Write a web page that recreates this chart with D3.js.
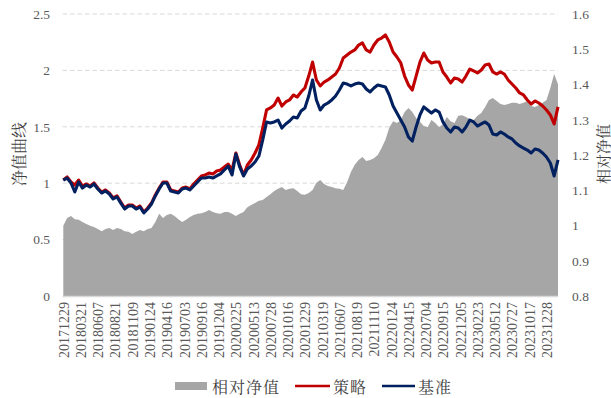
<!DOCTYPE html>
<html>
<head>
<meta charset="utf-8">
<script src="https://cdn.jsdelivr.net/npm/d3@7"></script>
<style>
  html, body { margin: 0; padding: 0; background: #fff; }
  svg { display: block; }
</style>
</head>
<body>
<svg id="chart" width="611" height="398"></svg>
<script>
// Trading-day sampling of the series (one value every 12 trading days)
const sampleStep = 12;
// Tick labels, one every 54 trading days
const tickStep = 54;
const tickLabels = [
  "20171229","20180321","20180607","20180821","20181109","20190124","20190416",
  "20190703","20190916","20191204","20200225","20200513","20200728","20201016",
  "20201229","20210319","20210607","20210819","20211110","20220124","20220415",
  "20220704","20220915","20221205","20230223","20230512","20230727","20231017",
  "20231228"
];

// 策略 net value (left axis)
const strategy = [
  1.028,1.055,1.011,0.984,1.028,0.975,0.993,0.975,1.002,0.957,
  0.922,0.940,0.913,0.869,0.887,0.833,0.780,0.807,0.807,0.780,
  0.798,0.745,0.780,0.824,0.895,0.957,1.011,1.011,0.940,0.931,
  0.922,0.957,0.966,0.949,0.993,1.028,1.064,1.073,1.090,1.082,
  1.108,1.117,1.144,1.170,1.117,1.268,1.161,1.073,1.161,1.206,
  1.268,1.339,1.489,1.649,1.667,1.693,1.755,1.684,1.720,1.738,
  1.782,1.764,1.809,1.844,1.950,2.074,1.915,1.862,1.897,1.915,
  1.941,1.968,2.021,2.110,2.137,2.163,2.181,2.225,2.243,2.181,
  2.163,2.225,2.270,2.287,2.314,2.252,2.163,2.119,2.066,1.950,
  1.871,1.826,1.950,2.074,2.154,2.092,2.066,2.074,2.074,1.986,
  1.941,1.888,1.933,1.924,1.897,1.950,2.012,1.995,1.977,2.004,
  2.048,2.057,1.986,1.968,1.986,1.968,1.915,1.879,1.844,1.800,
  1.782,1.738,1.702,1.729,1.711,1.684,1.649,1.605,1.525,1.676
];

// 基准 net value (left axis)
const benchmark = [
  1.028,1.046,1.002,0.922,1.011,0.957,0.984,0.966,0.993,0.949,
  0.913,0.931,0.904,0.860,0.878,0.824,0.771,0.798,0.798,0.771,
  0.789,0.736,0.771,0.816,0.887,0.949,1.002,1.002,0.931,0.922,
  0.913,0.949,0.957,0.940,0.975,1.011,1.046,1.046,1.055,1.046,
  1.064,1.082,1.117,1.152,1.073,1.259,1.144,1.064,1.126,1.152,
  1.188,1.241,1.383,1.543,1.534,1.543,1.560,1.489,1.525,1.551,
  1.587,1.578,1.640,1.667,1.773,1.915,1.738,1.649,1.693,1.711,
  1.738,1.773,1.826,1.888,1.879,1.862,1.879,1.888,1.879,1.835,
  1.809,1.844,1.871,1.862,1.853,1.782,1.684,1.622,1.560,1.498,
  1.410,1.374,1.498,1.605,1.676,1.649,1.622,1.649,1.631,1.543,
  1.489,1.454,1.498,1.489,1.454,1.498,1.560,1.543,1.507,1.525,
  1.543,1.516,1.436,1.427,1.454,1.436,1.410,1.392,1.356,1.330,
  1.312,1.294,1.268,1.303,1.294,1.268,1.232,1.179,1.064,1.206
];

// 相对净值 (right axis)
const relative = [
  0.999,1.021,1.027,1.018,1.016,1.010,1.004,0.999,0.996,0.990,
  0.984,0.990,0.993,0.987,0.993,0.990,0.984,0.982,0.976,0.982,
  0.987,0.984,0.990,0.993,1.010,1.033,1.021,1.030,1.033,1.027,
  1.018,1.010,1.016,1.024,1.030,1.033,1.035,1.038,1.044,1.038,
  1.035,1.033,1.038,1.038,1.033,1.027,1.033,1.038,1.052,1.058,
  1.064,1.070,1.072,1.081,1.089,1.098,1.104,1.109,1.101,1.104,
  1.106,1.098,1.089,1.087,1.092,1.101,1.121,1.129,1.118,1.112,
  1.109,1.106,1.104,1.101,1.123,1.152,1.172,1.186,1.194,1.183,
  1.186,1.191,1.200,1.220,1.243,1.277,1.296,1.291,1.299,1.322,
  1.333,1.322,1.305,1.294,1.282,1.279,1.299,1.291,1.279,1.288,
  1.308,1.296,1.291,1.311,1.313,1.308,1.302,1.299,1.311,1.319,
  1.336,1.356,1.362,1.353,1.345,1.342,1.345,1.348,1.348,1.345,
  1.348,1.353,1.339,1.336,1.342,1.348,1.356,1.390,1.430,1.401
];

const leftTicks = [0, 0.5, 1, 1.5, 2, 2.5];
const rightTicks = [0.8, 0.9, 1, 1.1, 1.2, 1.3, 1.4, 1.5, 1.6];

const rows = strategy.map((s, i) => ({
  day: i * sampleStep,
  strategy: s,
  benchmark: benchmark[i],
  relative: relative[i]
}));

const svg = d3.select("#chart");
const plot = { left: 62.5, right: 558, top: 14, bottom: 296 };

const x = d3.scaleLinear()
  .domain([0, (rows.length - 1) * sampleStep])
  .range([plot.left + 0.8, plot.right]);
const yL = d3.scaleLinear().domain([0, 2.5]).range([plot.bottom, plot.top]);
const yR = d3.scaleLinear().domain([0.8, 1.6]).range([plot.bottom, plot.top]);

const serif = "'Liberation Serif', 'Times New Roman', serif";
const cjk = "'Noto Serif CJK SC', 'Noto Sans CJK SC', sans-serif";

// dashed horizontal gridlines from the left axis
svg.append("g")
  .selectAll("line")
  .data(leftTicks.filter(t => t > 0))
  .join("line")
  .attr("x1", plot.left)
  .attr("x2", plot.right)
  .attr("y1", d => yL(d))
  .attr("y2", d => yL(d))
  .attr("stroke", "#d9d9d9")
  .attr("stroke-width", 1)
  .attr("stroke-dasharray", "4.5,3");

// relative value area
const area = d3.area()
  .x(d => x(d.day))
  .y0(yR(0.8))
  .y1(d => yR(d.relative));
svg.append("path")
  .datum(rows)
  .attr("d", area)
  .attr("fill", "#a6a6a6");

// baseline
svg.append("line")
  .attr("x1", plot.left)
  .attr("x2", plot.right)
  .attr("y1", plot.bottom + 0.5)
  .attr("y2", plot.bottom + 0.5)
  .attr("stroke", "#d9d9d9")
  .attr("stroke-width", 1.5);

// net value lines
const lineFor = key => d3.line().x(d => x(d.day)).y(d => yL(d[key]));
svg.append("path")
  .datum(rows)
  .attr("d", lineFor("strategy"))
  .attr("fill", "none")
  .attr("stroke", "#c00000")
  .attr("stroke-width", 3.1)
  .attr("stroke-linejoin", "round");
svg.append("path")
  .datum(rows)
  .attr("d", lineFor("benchmark"))
  .attr("fill", "none")
  .attr("stroke", "#002060")
  .attr("stroke-width", 3.1)
  .attr("stroke-linejoin", "round");

// left axis labels
const leftAxis = d3.axisLeft(yL).tickValues(leftTicks).tickSize(0).tickPadding(0)
  .tickFormat(d3.format("~g"));
const gL = svg.append("g").attr("transform", `translate(50,0)`).call(leftAxis);
gL.select(".domain").remove();
gL.selectAll("text")
  .attr("font-family", serif)
  .attr("font-size", 13.5)
  .attr("fill", "#595959");

// right axis labels
const rightAxis = d3.axisRight(yR).tickValues(rightTicks).tickSize(0).tickPadding(0)
  .tickFormat(d3.format("~g"));
const gR = svg.append("g").attr("transform", `translate(572,0)`).call(rightAxis);
gR.select(".domain").remove();
gR.selectAll("text")
  .attr("font-family", serif)
  .attr("font-size", 13.5)
  .attr("fill", "#595959");

// bottom date labels, rotated
const xTickDays = tickLabels.map((_, i) => i * tickStep);
const bottomAxis = d3.axisBottom(x).tickValues(xTickDays).tickSize(0).tickPadding(0)
  .tickFormat((d, i) => tickLabels[i]);
const gB = svg.append("g").attr("transform", `translate(0,${plot.bottom + 6})`).call(bottomAxis);
gB.select(".domain").remove();
gB.selectAll("text")
  .attr("font-family", serif)
  .attr("font-size", 14)
  .attr("fill", "#595959")
  .attr("transform", "rotate(-90)")
  .attr("text-anchor", "end")
  .attr("x", 0)
  .attr("y", 0)
  .attr("dy", "0.35em");

// axis titles
svg.append("text")
  .attr("transform", "translate(18,154) rotate(-90)")
  .attr("text-anchor", "middle")
  .attr("dominant-baseline", "central")
  .attr("font-family", cjk)
  .attr("font-size", 16)
  .attr("fill", "#404040")
  .text("净值曲线");
svg.append("text")
  .attr("transform", "translate(602,154) rotate(-90)")
  .attr("text-anchor", "middle")
  .attr("dominant-baseline", "central")
  .attr("font-family", cjk)
  .attr("font-size", 15)
  .attr("fill", "#404040")
  .text("相对净值");

// legend
const legendY = 386;
const legend = svg.append("g");
legend.append("rect")
  .attr("x", 175).attr("y", legendY - 4)
  .attr("width", 32).attr("height", 8)
  .attr("fill", "#a6a6a6");
legend.append("text")
  .attr("x", 212).attr("y", legendY)
  .attr("dominant-baseline", "central")
  .attr("font-family", cjk).attr("font-size", 16).attr("fill", "#404040")
  .attr("letter-spacing", 1)
  .text("相对净值");
legend.append("line")
  .attr("x1", 295).attr("x2", 330).attr("y1", legendY).attr("y2", legendY)
  .attr("stroke", "#c00000").attr("stroke-width", 2.6);
legend.append("text")
  .attr("x", 333).attr("y", legendY)
  .attr("dominant-baseline", "central")
  .attr("font-family", cjk).attr("font-size", 16).attr("fill", "#404040")
  .attr("letter-spacing", 1)
  .text("策略");
legend.append("line")
  .attr("x1", 382).attr("x2", 415).attr("y1", legendY).attr("y2", legendY)
  .attr("stroke", "#002060").attr("stroke-width", 2.6);
legend.append("text")
  .attr("x", 418).attr("y", legendY)
  .attr("dominant-baseline", "central")
  .attr("font-family", cjk).attr("font-size", 16).attr("fill", "#404040")
  .attr("letter-spacing", 1)
  .text("基准");
</script>
</body>
</html>
